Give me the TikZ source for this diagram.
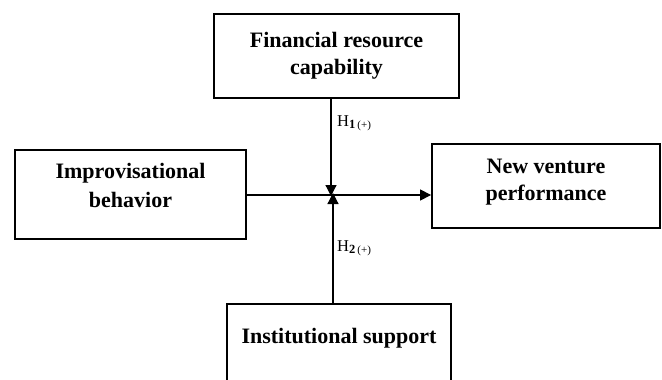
\documentclass[tikz,border=0pt]{standalone}
\usepackage{fontspec}
\setmainfont{Liberation Serif}
\usetikzlibrary{arrows.meta,positioning}

\begin{document}
\begin{tikzpicture}[x=1pt, y=-1pt,
  box/.style = {draw, line width=1.8pt, align=center, inner sep=0pt,
                font=\fontsize{22}{27}\selectfont\bfseries},
  link/.style = {line width=1.2pt, -{Triangle[length=11pt,width=11pt]}},
  hyp/.style = {font=\fontsize{16.5}{18}\selectfont, anchor=west, inner sep=0pt}]
\useasboundingbox (0,0) rectangle (662,380);
\node[box, minimum width=245pt, minimum height=84pt] (fin) at (336.5,56) {Financial resource\\capability};
\node[box, minimum width=231pt, minimum height=89pt, text depth=19pt,
      font=\fontsize{22}{29}\selectfont\bfseries] (imp) at (130.5,194.5) {Improvisational\\behavior};
\node[box, minimum width=228pt, minimum height=84pt, text depth=13pt] (perf) at (546,186) {New venture\\performance};
\node[box, minimum width=224pt, minimum height=88pt, text depth=24pt] (inst) at (339,348) {Institutional support};
\coordinate (meet) at (332,195);
%\tikzset{link/.style = {->}}
\draw[link] (imp.east |- meet) -- (perf.west |- meet);
\draw[link] ([xshift=-1pt]fin.south -| meet) -- ([xshift=-1pt,yshift=-1pt]meet);
\draw[link] ([xshift=1pt]inst.north -| meet) -- ([xshift=1pt,yshift=2pt]meet);
\node[hyp] (h1) at (337,123) {H\raisebox{-0.3ex}{\fontsize{12.5}{14}\selectfont\textbf{1}\,\fontsize{11}{12}\selectfont(+)}};
\node[hyp] (h2) at (337,248) {H\raisebox{-0.3ex}{\fontsize{12.5}{14}\selectfont\textbf{2}\,\fontsize{11}{12}\selectfont(+)}};
\end{tikzpicture}
\end{document}
